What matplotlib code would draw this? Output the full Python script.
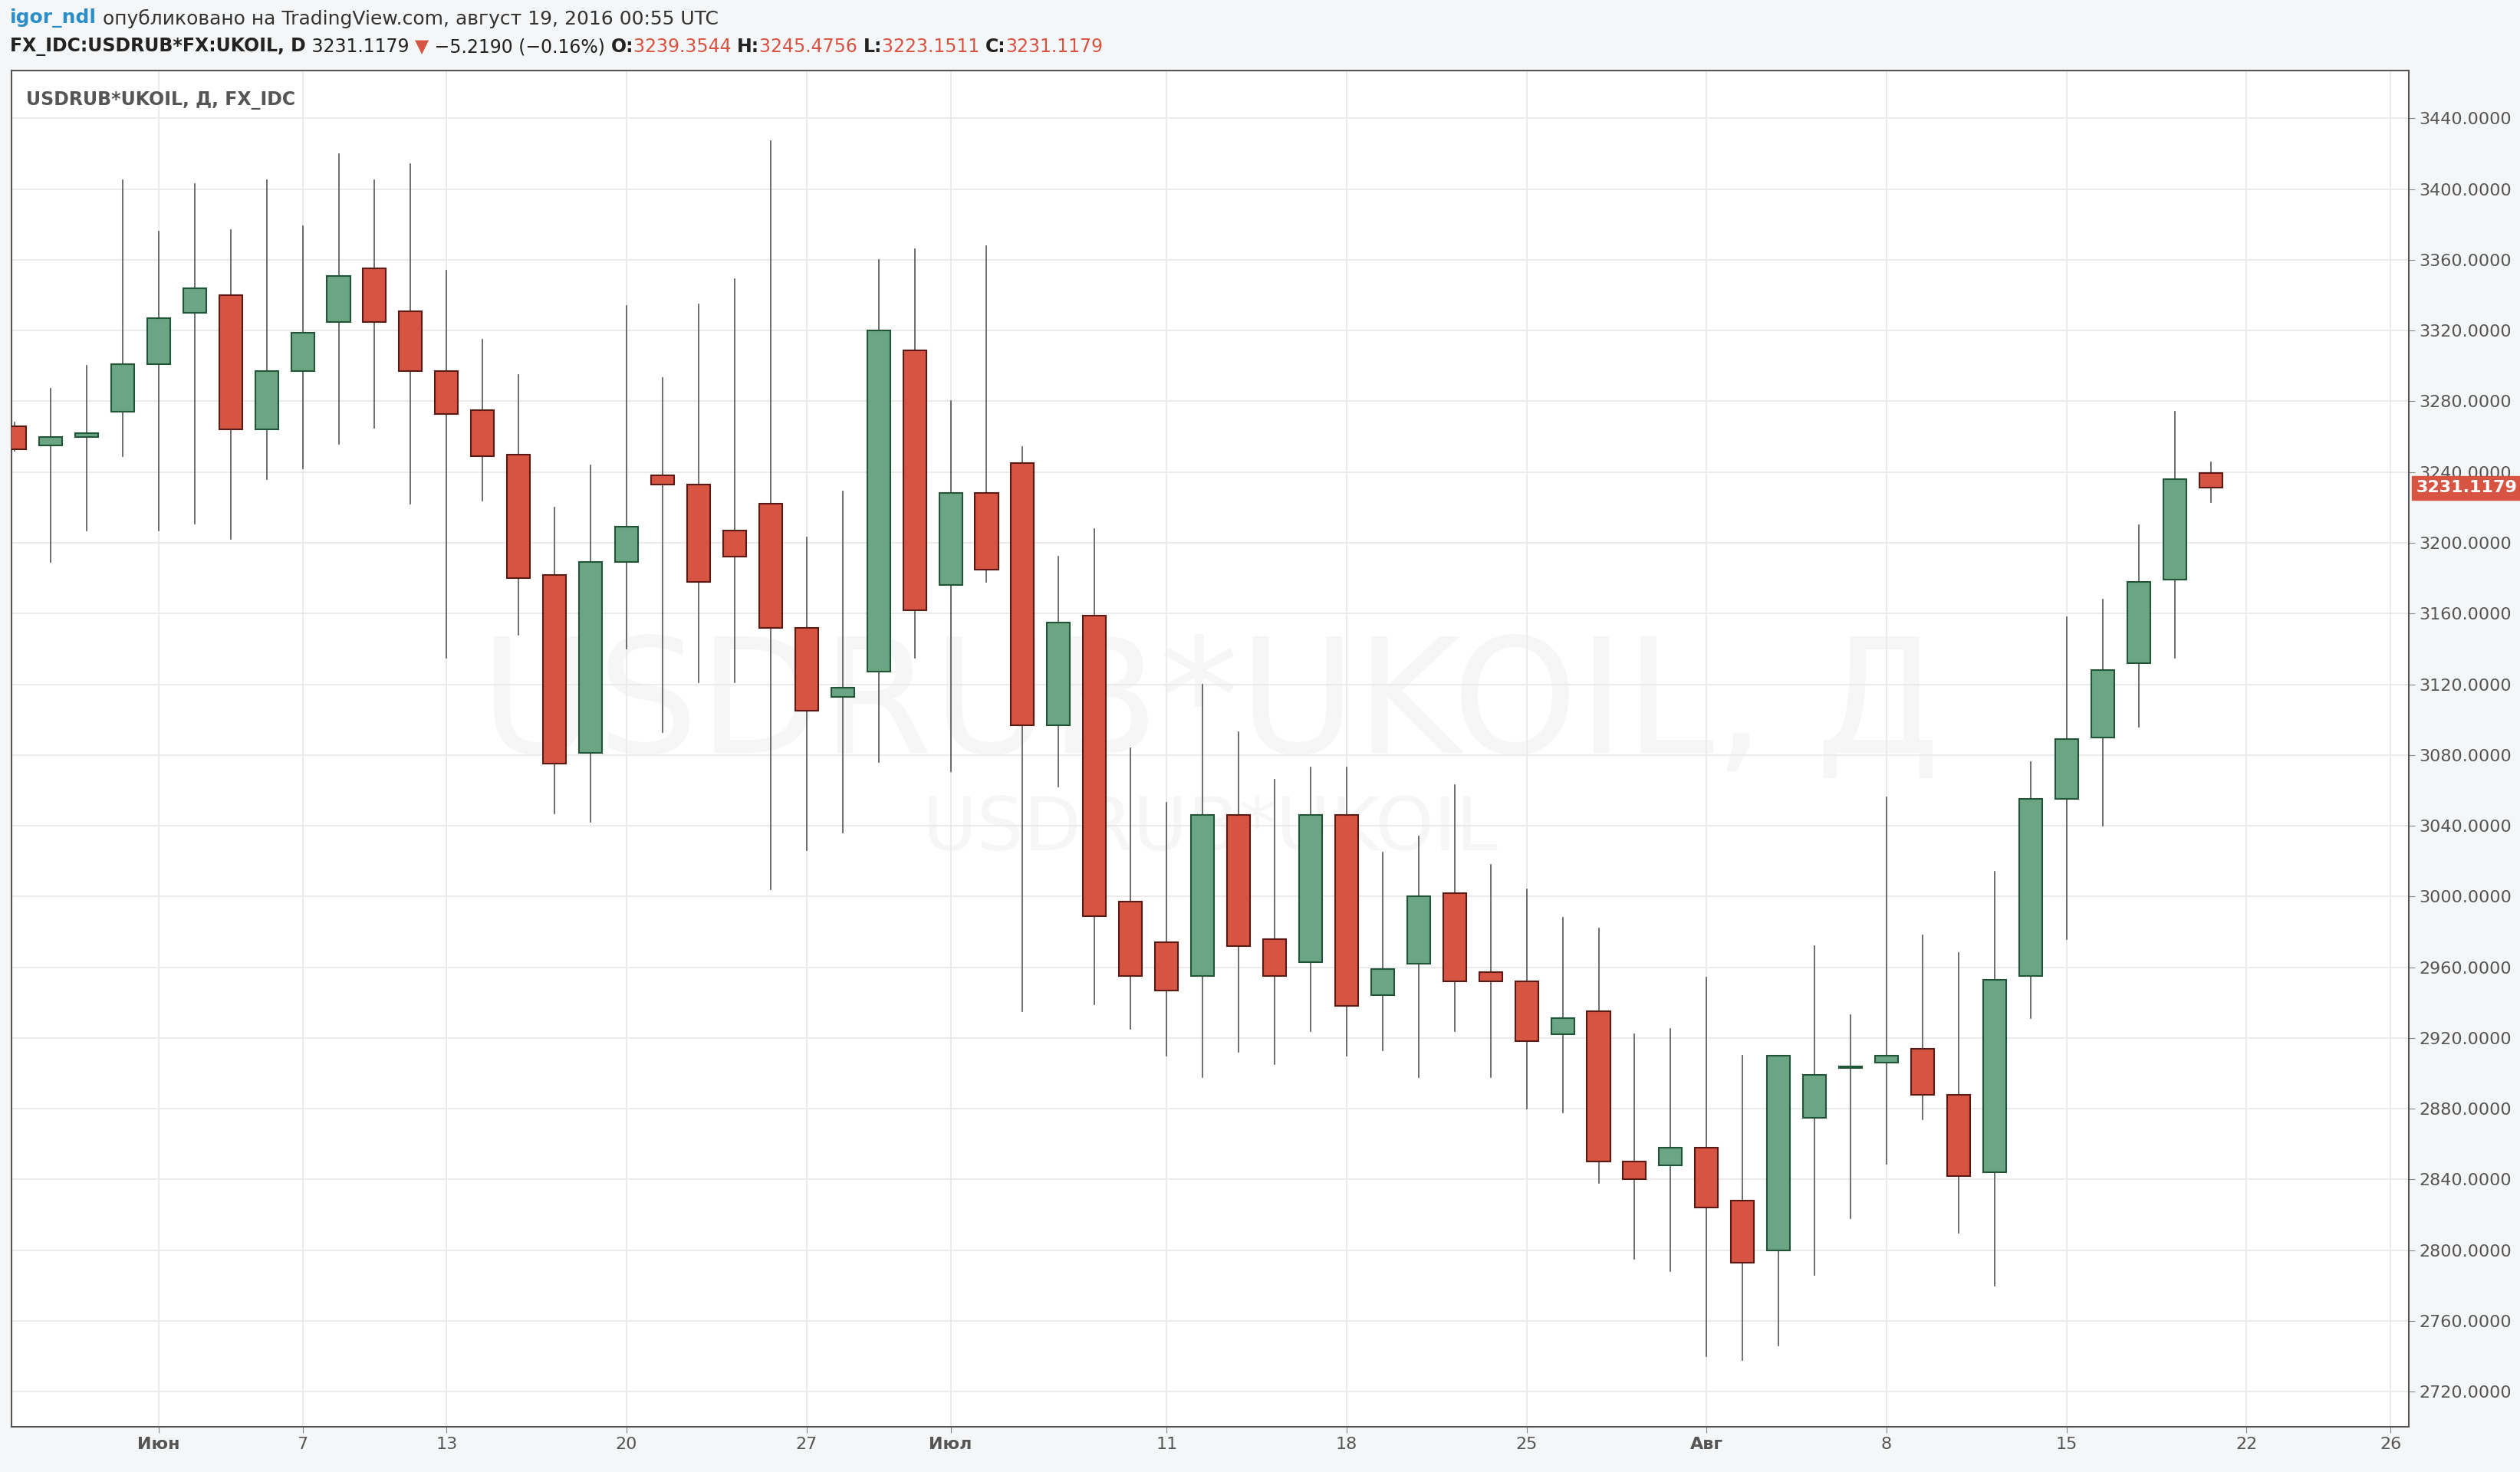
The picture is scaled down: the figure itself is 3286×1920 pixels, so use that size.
import matplotlib.pyplot as plt
from matplotlib.patches import Rectangle

# OHLC, по одной свече на торговый день (26 мая .. 19 авг 2016)
opens = [3266, 3255, 3260, 3274, 3301, 3330, 3340, 3264, 3297, 3325, 3355, 3331, 3297, 3275, 3250,
         3182, 3081, 3189, 3238, 3233, 3207, 3222, 3152, 3113, 3127, 3309, 3176, 3228, 3245, 3097,
         3159, 2997, 2974, 2955, 3046, 2976, 2963, 3046, 2944, 2962, 3002, 2957, 2952, 2922, 2935,
         2850, 2848, 2858, 2828, 2800, 2875, 2903, 2906, 2914, 2888, 2844, 2955, 3055, 3090, 3132,
         3179, 3239.3544]
highs = [3268, 3287, 3300, 3405, 3376, 3403, 3377, 3405, 3379, 3420, 3405, 3414, 3354, 3315, 3295,
         3220, 3244, 3334, 3293, 3335, 3349, 3427, 3203, 3229, 3360, 3366, 3280, 3368, 3254, 3192,
         3208, 3084, 3053, 3120, 3093, 3066, 3073, 3073, 3025, 3034, 3063, 3018, 3004, 2988, 2982,
         2922, 2925, 2954, 2910, 2910, 2972, 2933, 3056, 2978, 2968, 3014, 3076, 3158, 3168, 3210,
         3274, 3245.4756]
lows = [3252, 3189, 3207, 3249, 3207, 3211, 3202, 3236, 3242, 3256, 3265, 3222, 3135, 3224, 3148,
        3047, 3042, 3140, 3093, 3121, 3121, 3004, 3026, 3036, 3076, 3135, 3071, 3178, 2935, 3062,
        2939, 2925, 2910, 2898, 2912, 2905, 2924, 2910, 2913, 2898, 2924, 2898, 2880, 2878, 2838,
        2795, 2788, 2740, 2738, 2746, 2786, 2818, 2849, 2874, 2810, 2780, 2931, 2976, 3040, 3096,
        3135, 3223.1511]
closes = [3253, 3260, 3262, 3301, 3327, 3344, 3264, 3297, 3319, 3351, 3325, 3297, 3273, 3249, 3180,
          3075, 3189, 3209, 3233, 3178, 3192, 3152, 3105, 3118, 3320, 3162, 3228, 3185, 3097, 3155,
          2989, 2955, 2947, 3046, 2972, 2955, 3046, 2938, 2959, 3000, 2952, 2952, 2918, 2931, 2850,
          2840, 2858, 2824, 2793, 2910, 2899, 2904, 2910, 2888, 2842, 2953, 3055, 3089, 3128, 3178,
          3236, 3231.1179]

tick_idx = [4, 8, 12, 17, 22, 26, 32, 37, 42, 47, 52, 57, 62, 66]
tick_lbl = ['Июн', '7', '13', '20', '27', 'Июл', '11', '18', '25', 'Авг', '8', '15', '22', '26']
bold_lbl = {'Июн', 'Июл', 'Авг'}
y_ticks = list(range(2720, 3441, 40))

UP, DOWN = '#6ba583', '#d75442'
UP_EDGE, DOWN_EDGE = '#225437', '#5b1a13'

fig = plt.figure(figsize=(32.87, 19.2), dpi=100, facecolor='#f4f6f7')
ax = fig.add_axes([0.0045, 0.0306, 0.951, 0.9214])
ax.set_facecolor('white')

for i, (o, h, l, c) in enumerate(zip(opens, highs, lows, closes)):
    up = c >= o
    ax.plot([i, i], [l, h], color='#555555', lw=1.2, zorder=2)
    lo, hi = min(o, c), max(o, c)
    ax.add_patch(Rectangle((i - 0.32, lo), 0.64, max(hi - lo, 0.8),
                           facecolor=UP if up else DOWN,
                           edgecolor=UP_EDGE if up else DOWN_EDGE, lw=1.5, zorder=3))

ax.set_xlim(-0.09, 66.5)
ax.set_ylim(2700, 3467)
ax.set_xticks(tick_idx)
ax.set_xticklabels(tick_lbl, fontsize=16, color='#555555')
for t in ax.get_xticklabels():
    if t.get_text() in bold_lbl:
        t.set_fontweight('bold')
ax.yaxis.tick_right()
ax.set_yticks(y_ticks)
ax.set_yticklabels([f'{v:.4f}' for v in y_ticks], fontsize=16, color='#555555')
ax.tick_params(axis='both', length=6, color='#888888')
ax.grid(True, color='#e8e8e8', lw=1.2, zorder=0)
for s in ax.spines.values():
    s.set_color('#555555')
    s.set_linewidth(1.5)

# последняя цена
ax.text(1.003, closes[-1], f'{closes[-1]:.4f}', transform=ax.get_yaxis_transform(),
        fontsize=16, color='white', fontweight='bold', va='center', ha='left',
        bbox=dict(boxstyle='square,pad=0.25', fc=DOWN, ec=DOWN), clip_on=False)

# водяной знак
ax.text(0.5, 0.53, 'USDRUB*UKOIL, Д', transform=ax.transAxes, fontsize=150,
        color='#000000', alpha=0.035, ha='center', va='center', zorder=1)
ax.text(0.5, 0.44, 'USDRUB*UKOIL', transform=ax.transAxes, fontsize=70,
        color='#000000', alpha=0.035, ha='center', va='center', zorder=1)

ax.text(0.006, 0.985, 'USDRUB*UKOIL, Д, FX_IDC', transform=ax.transAxes, fontsize=17,
        color='#555555', fontweight='bold', va='top')

# шапка
fig.canvas.draw()
renderer = fig.canvas.get_renderer()


def text_row(y, parts, size):
    x = 0.004
    for txt, col, w in parts:
        t = fig.text(x, y, txt, fontsize=size, color=col, fontweight=w, va='center')
        x += t.get_window_extent(renderer).width / fig.bbox.width


text_row(0.9875, [('igor_ndl', '#2a8ec8', 'bold'),
                  (' опубликовано на TradingView.com, август 19, 2016 00:55 UTC', '#333333', 'normal')], 18)
text_row(0.968, [('FX_IDC:USDRUB*FX:UKOIL, D', '#222222', 'bold'), (' 3231.1179 ', '#222222', 'normal'),
                 ('▼', DOWN, 'normal'), (' −5.2190 (−0.16%) ', '#222222', 'normal'),
                 ('O:', '#222222', 'bold'), ('3239.3544 ', DOWN, 'normal'),
                 ('H:', '#222222', 'bold'), ('3245.4756 ', DOWN, 'normal'),
                 ('L:', '#222222', 'bold'), ('3223.1511 ', DOWN, 'normal'),
                 ('C:', '#222222', 'bold'), ('3231.1179', DOWN, 'normal')], 17)

fig.savefig('out.png', dpi=100, facecolor=fig.get_facecolor())
